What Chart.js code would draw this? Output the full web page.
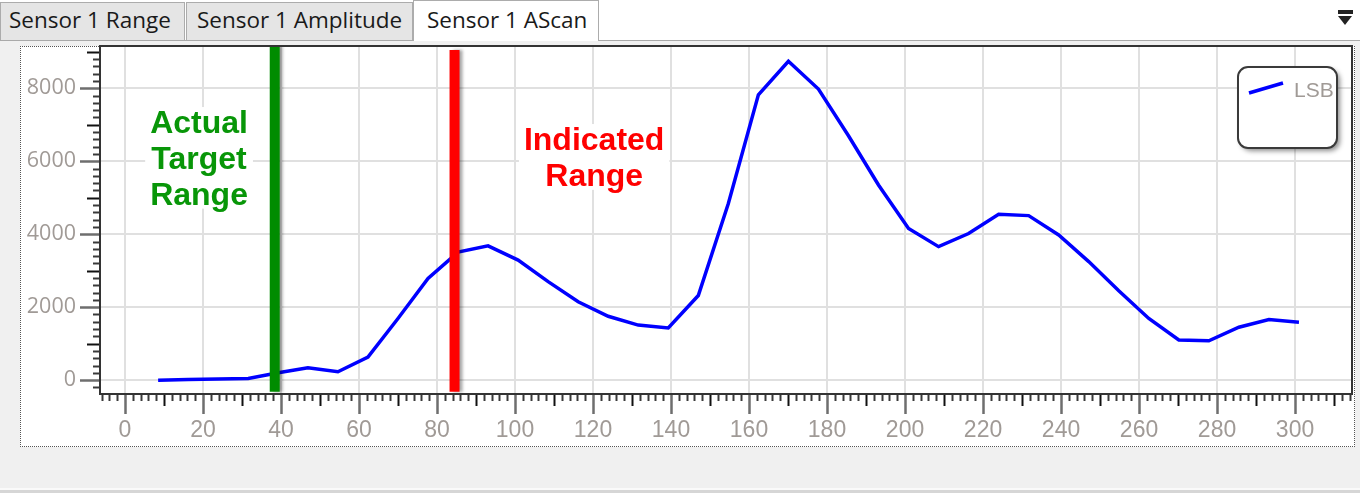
<!DOCTYPE html>
<html lang="en">
<head>
<meta charset="UTF-8">
<title>Sensor 1 AScan</title>
<script src="https://cdn.jsdelivr.net/npm/chart.js"></script>
<style>
  html, body { margin: 0; padding: 0; }
  body { width: 1360px; height: 493px; background: #f0f0f0; position: relative; overflow: hidden; font-family: 'Open Sans', sans-serif; }
  #tabstrip { position: absolute; left: 0; top: 0; width: 1360px; height: 40px; background: #fff; border-bottom: 1px solid #a9a9a9; }
  .tab { position: absolute; box-sizing: border-box; top: 2px; height: 38px; line-height: 34px; background: #e5e5e5; border: 1px solid #acacac; border-bottom: none; font-size: 22.5px; color: #1a1a1a; white-space: nowrap; }
  .tab.active { top: 0; height: 41px; line-height: 38px; background: #fff; }
  #menuBar { position: absolute; left: 1338px; top: 10px; width: 15px; height: 4px; background: #222; }
  #menuArrow { position: absolute; left: 1338px; top: 16px; width: 0; height: 0; border-left: 7.5px solid transparent; border-right: 7.5px solid transparent; border-top: 9px solid #222; }
  #panel { position: absolute; left: 20px; top: 46px; width: 1335px; height: 401px; box-sizing: border-box; background: #fff; border: 1px dotted #555; }
  #foot { position: absolute; left: 0; top: 488px; width: 1360px; height: 5px; border-top: 2px solid #fafafa; background: #d6d6d6; box-sizing: border-box; }
  #wrap { position: absolute; left: 0; top: 42px; width: 1360px; height: 406px; }
</style>
</head>
<body>

<div id="tabstrip">
  <div class="tab" style="left:0; width:185px; padding-left:8px;">Sensor 1 Range</div>
  <div class="tab" style="left:186px; width:227px; padding-left:10px;">Sensor 1 Amplitude</div>
  <div class="tab active" style="left:413px; width:186px; padding-left:13px;">Sensor 1 AScan</div>
  <div id="menuBar"></div>
  <div id="menuArrow"></div>
</div>
<div id="panel"></div>
<div id="foot"></div>
<div id="wrap"><canvas id="ascan-chart"></canvas></div>

<script>
// A-scan samples (x = range, y = LSB)
var positions = [8.5, 16.2, 23.9, 31.6, 39.3, 46.9, 54.6, 62.3, 70.0, 77.7,
                 85.4, 93.1, 100.8, 108.5, 116.2, 123.9, 131.6, 139.3, 147.0, 154.7,
                 162.4, 170.1, 177.8, 185.5, 193.2, 200.9, 208.6, 216.3, 224.0, 231.7,
                 239.4, 247.1, 254.8, 262.5, 270.2, 277.9, 285.6, 293.3, 301.0];
var lsbValues = [0, 15, 30, 45, 200, 340, 230, 630, 1690, 2790,
                 3510, 3680, 3290, 2700, 2150, 1750, 1510, 1430, 2320, 4840,
                 7820, 8740, 7980, 6700, 5350, 4160, 3660, 4020, 4550, 4510,
                 3980, 3250, 2450, 1690, 1100, 1080, 1450, 1660, 1590];

var xTicks = [0, 20, 40, 60, 80, 100, 120, 140, 160, 180, 200, 220, 240, 260, 280, 300];
var yTicks = [0, 2000, 4000, 6000, 8000];

var actualRange = 38.4;
var indicatedRange = 84.5;

var xMin = -6.4, xMax = 314.6;
var yMin = -380, yMax = 9160;

var labelColor = '#a09a96';

// text boxes next to the range markers
var notes = [
    { lines: ['Actual', 'Target', 'Range'], x: 19, y: 6774, color: '#089608' },
    { lines: ['Indicated', 'Range'], x: 120.3, y: 6308, color: '#ff0000' }
];

var notesPlugin = {
    id: 'notes',
    beforeDatasetsDraw: function(chart) {
        var ctx = chart.ctx;
        var sx = chart.scales.x, sy = chart.scales.y;
        ctx.save();
        ctx.font = 'bold 32px "Liberation Sans", Arial, sans-serif';
        ctx.textAlign = 'center';
        ctx.textBaseline = 'alphabetic';
        notes.forEach(function(n) {
            var cx = sx.getPixelForValue(n.x);
            var by = sy.getPixelForValue(n.y);
            var w = 0;
            n.lines.forEach(function(l) { w = Math.max(w, ctx.measureText(l).width); });
            var step = 35.8;
            ctx.fillStyle = '#fff';
            ctx.fillRect(cx - w / 2 - 5, by - 26, w + 10, step * (n.lines.length - 1) + 30);
            ctx.fillStyle = n.color;
            n.lines.forEach(function(l, i) { ctx.fillText(l, cx, by + i * step); });
        });
        ctx.restore();
    }
};

// shadow on the marker bars
var markerShadow = {
    id: 'markerShadow',
    beforeDatasetDraw: function(chart, args) {
        if (args.index === 0) return;
        var ctx = chart.ctx;
        ctx.save();
        ctx.shadowColor = 'rgba(0,0,0,0.35)';
        ctx.shadowBlur = 3;
        ctx.shadowOffsetX = 3;
    },
    afterDatasetDraw: function(chart, args) {
        if (args.index === 0) return;
        chart.ctx.restore();
    }
};

// plot frame and the multi level tick marks
var frameTicks = {
    id: 'frameTicks',
    afterDatasetsDraw: function(chart) {
        var ctx = chart.ctx, a = chart.chartArea;
        var sx = chart.scales.x, sy = chart.scales.y;
        ctx.save();
        ctx.lineCap = 'butt';
        var v, p, len;
        for (v = -6; v <= 314; v += 2) {
            p = Math.round(sx.getPixelForValue(v)) + 0.5;
            if (v % 20 === 0) { len = 20; ctx.strokeStyle = '#6e6e6e'; ctx.lineWidth = 2.5; }
            else if (v % 10 === 0) { len = 12; ctx.strokeStyle = '#111'; ctx.lineWidth = 2; }
            else { len = 7; ctx.strokeStyle = '#3a3a3a'; ctx.lineWidth = 2; }
            ctx.beginPath(); ctx.moveTo(p, a.bottom); ctx.lineTo(p, a.bottom + len); ctx.stroke();
        }
        for (v = -200; v <= 9000; v += 200) {
            p = Math.round(sy.getPixelForValue(v)) + 0.5;
            if (v % 2000 === 0) { len = 20; ctx.strokeStyle = '#6e6e6e'; ctx.lineWidth = 2.5; }
            else if (v % 1000 === 0) { len = 13; ctx.strokeStyle = '#111'; ctx.lineWidth = 2; }
            else { len = 7; ctx.strokeStyle = '#3a3a3a'; ctx.lineWidth = 2; }
            ctx.beginPath(); ctx.moveTo(a.left, p); ctx.lineTo(a.left - len, p); ctx.stroke();
        }
        ctx.strokeStyle = '#333';
        ctx.lineWidth = 2;
        ctx.strokeRect(a.left, a.top, a.right - a.left, a.bottom - a.top);
        ctx.restore();
    }
};

var legendBox = {
    id: 'legendBox',
    afterDraw: function(chart) {
        var ctx = chart.ctx, a = chart.chartArea;
        var ds = chart.data.datasets[0];
        var w = 99, h = 81, x = a.right - 15 - w, y = a.top + 21;
        ctx.save();
        ctx.shadowColor = 'rgba(0,0,0,0.45)';
        ctx.shadowBlur = 5;
        ctx.shadowOffsetX = 3;
        ctx.shadowOffsetY = 3;
        ctx.beginPath();
        ctx.roundRect(x, y, w, h, 10);
        ctx.fillStyle = '#fff';
        ctx.fill();
        ctx.shadowColor = 'transparent';
        ctx.lineWidth = 2;
        ctx.strokeStyle = '#3a3a3a';
        ctx.stroke();
        ctx.beginPath();
        ctx.moveTo(x + 11, y + 26);
        ctx.lineTo(x + 45, y + 16);
        ctx.strokeStyle = ds.borderColor;
        ctx.lineWidth = 3.5;
        ctx.stroke();
        ctx.font = '21px "Liberation Sans", sans-serif';
        ctx.fillStyle = labelColor;
        ctx.textBaseline = 'middle';
        ctx.fillText(ds.label, x + 56, y + 24);
        ctx.restore();
    }
};

var ctx = document.getElementById('ascan-chart').getContext('2d');
var chart = new Chart(ctx, {
    type: 'line',
    data: {
        datasets: [
            {
                label: 'LSB',
                data: positions.map(function(x, i) { return { x: x, y: lsbValues[i] }; }),
                borderColor: '#0000ff',
                borderWidth: 3.5,
                pointRadius: 0,
                tension: 0,
                order: 1
            },
            {
                label: 'Actual Target Range',
                data: [{ x: actualRange, y: -320 }, { x: actualRange, y: yMax }],
                borderColor: '#008c00',
                borderWidth: 10,
                borderCapStyle: 'butt',
                pointRadius: 0,
                order: 0
            },
            {
                label: 'Indicated Range',
                data: [{ x: indicatedRange, y: -320 }, { x: indicatedRange, y: 9050 }],
                borderColor: '#ff0000',
                borderWidth: 10,
                borderCapStyle: 'butt',
                pointRadius: 0,
                order: 0
            }
        ]
    },
    options: {
        responsive: true,
        maintainAspectRatio: false,
        animation: false,
        layout: { padding: { left: 0, top: 4, right: 8, bottom: 0 } },
        plugins: {
            legend: { display: false },
            tooltip: { enabled: false }
        },
        scales: {
            x: {
                type: 'linear',
                min: xMin,
                max: xMax,
                afterBuildTicks: function(scale) {
                    scale.ticks = xTicks.map(function(v) { return { value: v }; });
                },
                afterFit: function(scale) {
                    scale.height = 54;
                    scale.paddingLeft = 0;
                    scale.paddingRight = 0;
                },
                grid: { color: '#e0e0e0', lineWidth: 2, drawTicks: false },
                border: { display: false },
                ticks: {
                    padding: 23,
                    color: labelColor,
                    maxRotation: 0,
                    autoSkip: false,
                    font: { family: '"Liberation Sans", sans-serif', size: 23 },
                    callback: function(v) { return String(v); }
                }
            },
            y: {
                type: 'linear',
                min: yMin,
                max: yMax,
                afterBuildTicks: function(scale) {
                    scale.ticks = yTicks.map(function(v) { return { value: v }; });
                },
                afterFit: function(scale) {
                    scale.width = 100;
                    scale.paddingTop = 0;
                    scale.paddingBottom = 0;
                },
                grid: { color: '#e0e0e0', lineWidth: 2, drawTicks: false },
                border: { display: false },
                ticks: {
                    padding: 24,
                    color: labelColor,
                    font: { family: '"Open Sans", sans-serif', size: 21.5 },
                    callback: function(v) { return String(v); }
                }
            }
        }
    },
    plugins: [notesPlugin, markerShadow, frameTicks, legendBox]
});
</script>

</body>
</html>
